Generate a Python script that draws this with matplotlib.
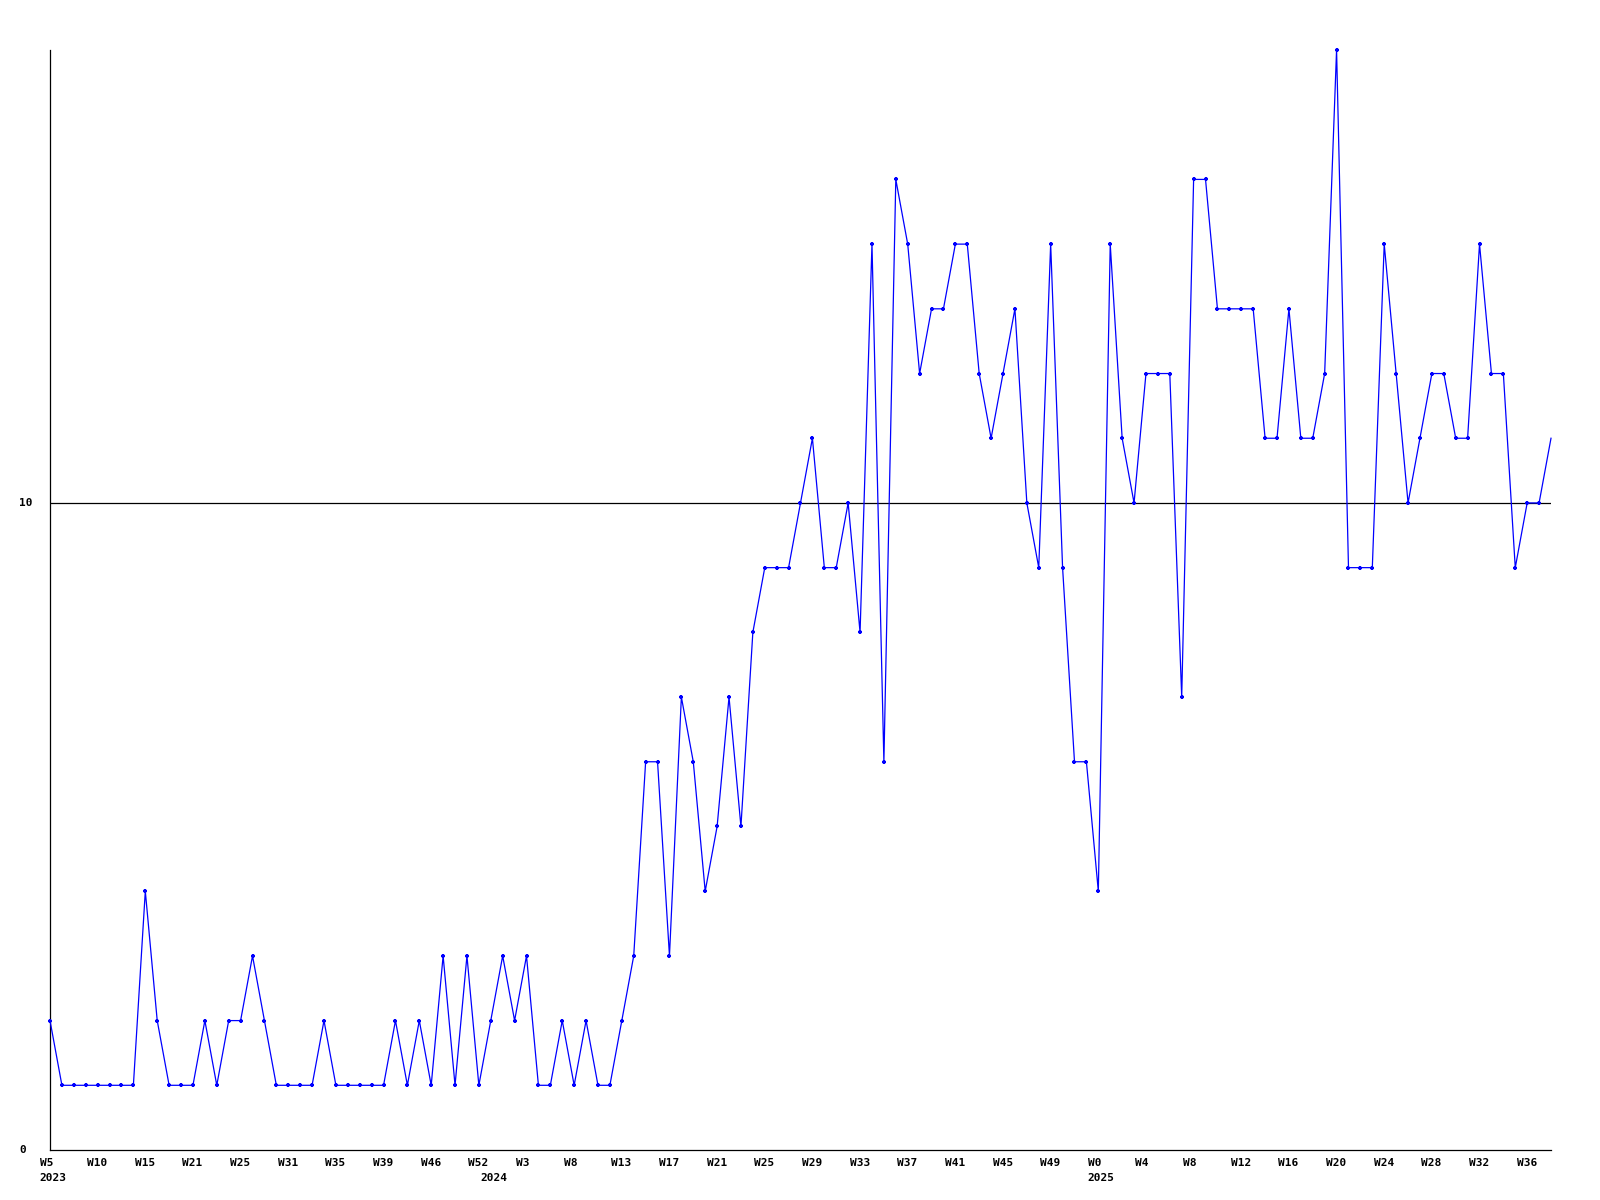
import matplotlib
matplotlib.use("Agg")
import matplotlib.pyplot as plt
import numpy as np

# Weekly values, split by year as labelled on the x axis
values_2023 = [2, 1, 1, 1, 1, 1, 1, 1, 4, 2, 1, 1, 1, 2, 1, 2, 2, 3, 2, 1,
               1, 1, 1, 2, 1, 1, 1, 1, 1, 2, 1, 2, 1, 3, 1, 3, 1]
values_2024 = [2, 3, 2, 3, 1, 1, 2, 1, 2, 1, 1, 2, 3, 6, 6, 3, 7, 6, 4, 5,
               7, 5, 8, 9, 9, 9, 10, 11, 9, 9, 10, 8, 14, 6, 15, 14, 12, 13, 13, 14,
               14, 12, 11, 12, 13, 10, 9, 14, 9, 6, 6]
values_2025 = [4, 14, 11, 10, 12, 12, 12, 7, 15, 15, 13, 13, 13, 13, 11, 11, 13, 11, 11, 12,
               17, 9, 9, 9, 14, 12, 10, 11, 12, 12, 11, 11, 14, 12, 12, 9, 10, 10, 11]

week_labels = ["W5", "W10", "W15", "W21", "W25", "W31", "W35", "W39", "W46", "W52",
               "W3", "W8", "W13", "W17", "W21", "W25", "W29", "W33", "W37", "W41",
               "W45", "W49", "W0", "W4", "W8", "W12", "W16", "W20", "W24", "W28",
               "W32", "W36"]
year_labels = ["2023", "2024", "2025"]
y_labels = ["0", "10"]
y_label_values = [0, 10]

values = values_2023 + values_2024 + values_2025
x = np.arange(len(values))
label_step = 4
year_starts = [0, len(values_2023), len(values_2023) + len(values_2024)]

font = dict(family="DejaVu Sans Mono", weight="bold", size=8)

fig = plt.figure(figsize=(16, 12), dpi=100)
ax = fig.add_axes([50 / 1600, 50 / 1200, (1551 - 50) / 1600, 1100 / 1200])

ax.plot(x, values, color="#0000ff", linewidth=0.9, zorder=3, clip_on=False,
        marker="+", markersize=3.5, markeredgewidth=1.6,
        markevery=list(range(len(values) - 1)))

ax.axhline(10, color="black", linewidth=0.9, zorder=2)

ax.set_xlim(0, len(values) - 1)
ax.set_ylim(0, 17)
for s in ["top", "right"]:
    ax.spines[s].set_visible(False)
for s in ["left", "bottom"]:
    ax.spines[s].set_color("black")
    ax.spines[s].set_linewidth(0.9)
ax.set_xticks([])
ax.set_yticks([])

for k, lab in enumerate(week_labels):
    ax.annotate(lab, xy=(k * label_step, 0), xycoords=("data", "axes fraction"),
                xytext=(-10.5, -13), textcoords="offset pixels",
                ha="left", va="center", annotation_clip=False, **font)

for pos, lab in zip(year_starts, year_labels):
    ax.annotate(lab, xy=(pos, 0), xycoords=("data", "axes fraction"),
                xytext=(-10.5, -28), textcoords="offset pixels",
                ha="left", va="center", annotation_clip=False, **font)

for v, lab in zip(y_label_values, y_labels):
    ax.annotate(lab, xy=(0, v), xycoords=("axes fraction", "data"),
                xytext=(-31, 0), textcoords="offset pixels",
                ha="left", va="center", annotation_clip=False, **font)

fig.savefig("out.png", dpi=100, facecolor="white")
